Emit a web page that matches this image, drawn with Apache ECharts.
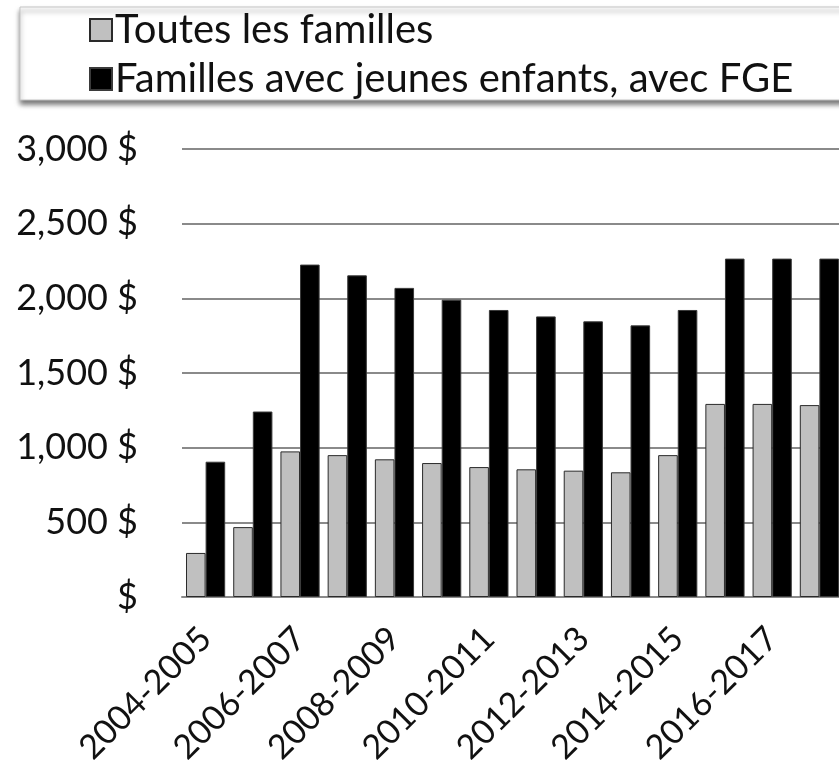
<!DOCTYPE html>
<html lang="fr">

<head>
  <meta charset="UTF-8">
  <title>Prestations par famille</title>
  <script src="https://cdn.jsdelivr.net/npm/echarts@6/dist/echarts.min.js"></script>
  <style>
    html, body { margin: 0; padding: 0; background: #fff; }
    #chart { width: 839px; height: 783px; }
  </style>
</head>

<body>
  <div id="chart"></div>
  <script>
    // données
    const annees = ['2004-2005', '2005-2006', '2006-2007', '2007-2008', '2008-2009', '2009-2010', '2010-2011',
      '2011-2012', '2012-2013', '2013-2014', '2014-2015', '2015-2016', '2016-2017', '2017-2018']
    const toutesFamilles = [295, 468, 975, 950, 922, 897, 870, 855, 846, 835, 950, 1293, 1293, 1285]
    const famillesFGE = [906, 1242, 2226, 2154, 2070, 1991, 1922, 1879, 1846, 1819, 1922, 2266, 2266, 2266]
    const nomsSeries = ['Toutes les familles', 'Familles avec jeunes enfants, avec FGE']
    const yTicks = [0, 500, 1000, 1500, 2000, 2500, 3000]

    const police = 'Lato'
    let chart = echarts.init(document.getElementById('chart'))

    let option = {
      animation: false,
      textStyle: { fontFamily: police },
      legend: {
        orient: 'vertical',
        left: 20,
        top: 7,
        padding: [3, 120, 1, 69],
        itemGap: 9,
        itemWidth: 22,
        itemHeight: 22,
        icon: 'rect',
        backgroundColor: '#fff',
        borderColor: '#c4c4c4',
        borderWidth: 1,
        shadowColor: 'rgba(0,0,0,0.55)',
        shadowBlur: 5,
        shadowOffsetY: 4,
        textStyle: {
          fontFamily: police,
          fontSize: 40,
          color: '#111',
          padding: [0, 0, 0, -2]
        },
        data: nomsSeries
      },
      grid: {
        left: 182,
        top: 149,
        height: 448,
        width: 661,
        outerBoundsMode: 'none'
      },
      xAxis: {
        type: 'category',
        data: annees,
        axisTick: { show: false },
        axisLine: { show: true, lineStyle: { color: '#8a8a8a', width: 2 } },
        axisLabel: {
          interval: 1,
          rotate: 45,
          margin: 36,
          fontFamily: police,
          fontSize: 34,
          color: '#111'
        }
      },
      yAxis: {
        type: 'value',
        min: yTicks[0],
        max: yTicks[yTicks.length - 1],
        interval: 500,
        axisLine: { show: false },
        axisTick: { show: false },
        splitLine: { lineStyle: { color: '#8a8a8a', width: 2 } },
        axisLabel: {
          margin: 44,
          fontFamily: police,
          fontSize: 36,
          color: '#111',
          formatter: function (v) {
            if (v === 0) return '$'
            return v.toLocaleString('en-US') + ' $'
          }
        }
      },
      series: [
        {
          name: nomsSeries[0],
          type: 'bar',
          data: toutesFamilles,
          barGap: '0%',
          barCategoryGap: '17%',
          itemStyle: { color: '#c0c0c0', borderColor: '#2a2a2a', borderWidth: 1 }
        },
        {
          name: nomsSeries[1],
          type: 'bar',
          data: famillesFGE,
          itemStyle: { color: '#000', borderColor: '#3a3a3a', borderWidth: 1 }
        }
      ]
    }

    chart.setOption(option)
  </script>
</body>

</html>
